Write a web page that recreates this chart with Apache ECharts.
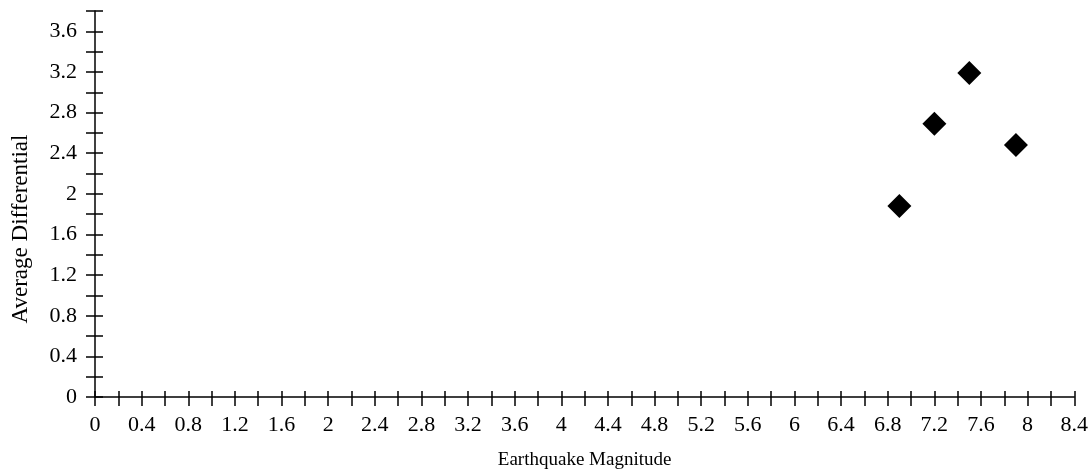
<!DOCTYPE html>
<html>
<head>
<meta charset="utf-8">
<script src="https://cdn.jsdelivr.net/npm/echarts@6/dist/echarts.min.js"></script>
<style>
  html, body { margin: 0; padding: 0; background: #fff; }
  #chart { width: 1091px; height: 475px; }
</style>
</head>
<body>
<div id="chart"></div>
<script>
// Earthquake magnitude vs. average differential
const magnitudes = [6.9, 7.2, 7.5, 7.9];
const differentials = [1.88, 2.69, 3.19, 2.48];

const xName = 'Earthquake Magnitude';
const yName = 'Average Differential';

const xMin = 0, xMax = 8.4, yMin = 0, yMax = 3.8;
const tickStep = 0.2;   // every tick mark
const labelEvery = 0.4; // labelled ticks

const FONT = 'Liberation Serif';
const INK = '#000';

function stepLabel(v) {
  const k = Math.round(v / tickStep);
  const per = Math.round(labelEvery / tickStep);
  if (k % per !== 0) return '';
  return String(Math.round(v * 10) / 10);
}

const points = magnitudes.map((m, i) => [m, differentials[i]]);

const lineStyle = { color: INK, width: 1.5 };

function baseAxis(extra) {
  return Object.assign({
    type: 'value',
    interval: tickStep,
    splitLine: { show: false },
    axisLine: { show: true, onZero: false, lineStyle: lineStyle },
    axisTick: { show: true, length: 9, lineStyle: lineStyle }
  }, extra);
}

const chart = echarts.init(document.getElementById('chart'));
chart.setOption({
  animation: false,
  textStyle: { fontFamily: FONT, color: INK },
  grid: { left: 95, right: 16, top: 11, bottom: 77, containLabel: false },
  xAxis: [
    baseAxis({
      min: xMin, max: xMax, position: 'bottom',
      name: xName, nameLocation: 'middle', nameGap: 54,
      nameTextStyle: { fontFamily: FONT, fontSize: 19, color: INK },
      axisLabel: { formatter: stepLabel, fontFamily: FONT, fontSize: 22, color: INK, margin: 17, showMinLabel: true, showMaxLabel: true }
    }),
    baseAxis({
      min: xMin, max: xMax, position: 'bottom',
      axisLine: { show: false },
      axisTick: { show: true, inside: true, length: 6, lineStyle: lineStyle },
      axisLabel: { show: false }
    })
  ],
  yAxis: [
    baseAxis({
      min: yMin, max: yMax, position: 'left',
      name: yName, nameLocation: 'middle', nameGap: 63, nameRotate: 90,
      nameTextStyle: { fontFamily: FONT, fontSize: 23, color: INK, padding: [0, 50, 0, 0] },
      axisLabel: { formatter: stepLabel, fontFamily: FONT, fontSize: 22, color: INK, margin: 18 }
    }),
    baseAxis({
      min: yMin, max: yMax, position: 'left',
      axisLine: { show: false },
      axisTick: { show: true, inside: true, length: 8, lineStyle: lineStyle },
      axisLabel: { show: false }
    })
  ],
  series: [{
    type: 'scatter',
    xAxisIndex: 0,
    yAxisIndex: 0,
    symbol: 'diamond',
    symbolSize: [24, 24],
    itemStyle: { color: INK, opacity: 1 },
    data: points
  }]
});
</script>
</body>
</html>
